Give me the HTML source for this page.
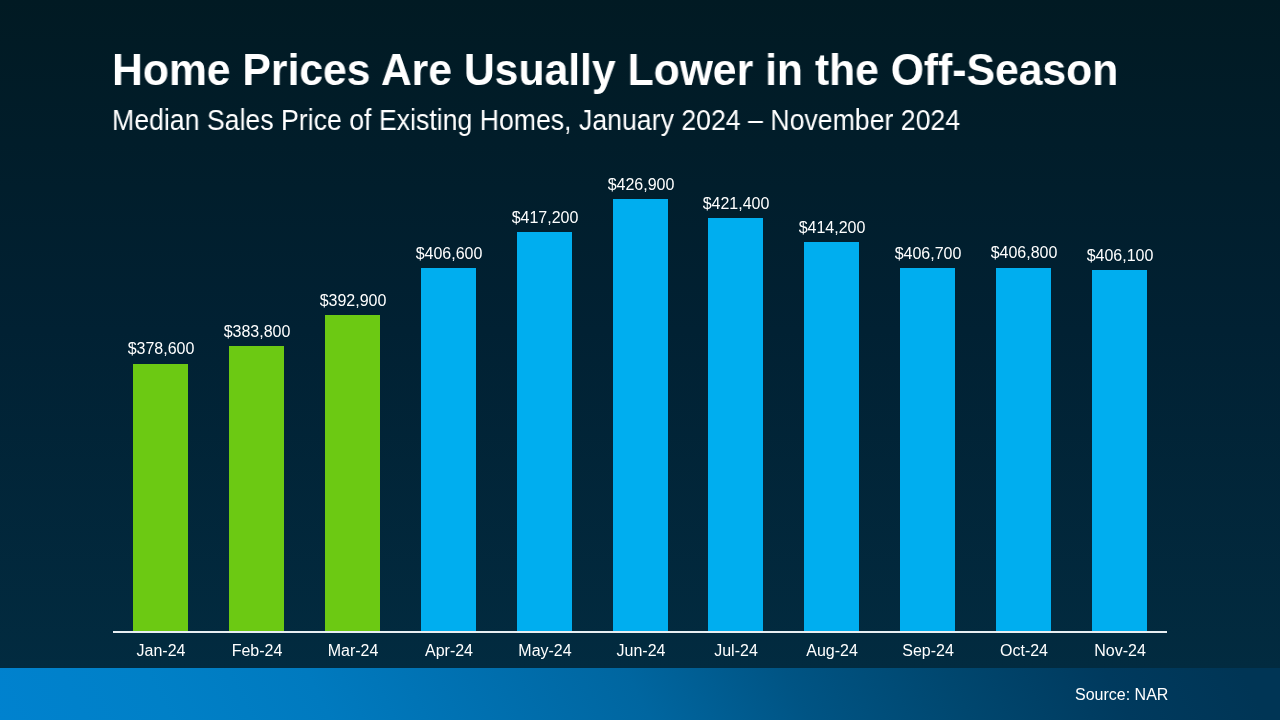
<!DOCTYPE html>
<html><head><meta charset="utf-8"><style>
html,body{margin:0;padding:0;}
.title,.sub,.lbl,.src{will-change:transform;}
body{width:1280px;height:720px;position:relative;overflow:hidden;font-family:"Liberation Sans",sans-serif;color:#fff;
background:linear-gradient(to bottom,#011a23 0px,#012133 330px,#022b40 668px);}
.title{position:absolute;left:112.1px;top:48px;font-weight:bold;font-size:44.6px;line-height:44.6px;white-space:nowrap;transform:scaleX(0.957);transform-origin:0 0;}
.sub{position:absolute;left:112px;top:106px;font-size:29px;line-height:29px;white-space:nowrap;transform:scaleX(0.9198);transform-origin:0 0;}
.bar{position:absolute;}
.lbl{position:absolute;width:100px;text-align:center;font-size:16px;line-height:16px;white-space:nowrap;}
.axis{position:absolute;left:113px;width:1054px;top:631px;height:1.6px;background:#e8eef2;}
.foot{position:absolute;left:0;top:668px;width:1280px;height:52px;background:linear-gradient(63deg,#0082cf 0%,#0080c7 13%,#007abf 25.3%,#0070b0 37.5%,#0066a0 49.8%,#005484 62%,#00476f 74.3%,#003a5e 86.5%,#003555 97%);}
.src{position:absolute;right:112px;top:687.2px;font-size:16px;line-height:16px;white-space:nowrap;}
</style></head><body>
<div class="title" id="t">Home Prices Are Usually Lower in the Off-Season</div>
<div class="sub" id="s">Median Sales Price of Existing Homes, January 2024 &ndash; November 2024</div>
<div class="bar" style="left:133.00px;top:364.00px;width:55px;height:268.00px;background:#6cc913"></div>
<div class="lbl" style="left:110.50px;top:340.51px">$378,600</div>
<div class="lbl" style="left:110.50px;top:643.45px">Jan-24</div>
<div class="bar" style="left:229.00px;top:346.00px;width:55px;height:286.00px;background:#6cc913"></div>
<div class="lbl" style="left:206.50px;top:323.73px">$383,800</div>
<div class="lbl" style="left:206.50px;top:643.45px">Feb-24</div>
<div class="bar" style="left:325.00px;top:315.00px;width:55px;height:317.00px;background:#6cc913"></div>
<div class="lbl" style="left:302.50px;top:292.99px">$392,900</div>
<div class="lbl" style="left:302.50px;top:643.45px">Mar-24</div>
<div class="bar" style="left:421.00px;top:268.00px;width:55px;height:364.00px;background:#00aeef"></div>
<div class="lbl" style="left:398.50px;top:246.11px">$406,600</div>
<div class="lbl" style="left:398.50px;top:643.45px">Apr-24</div>
<div class="bar" style="left:517.00px;top:232.00px;width:55px;height:400.00px;background:#00aeef"></div>
<div class="lbl" style="left:494.50px;top:210.28px">$417,200</div>
<div class="lbl" style="left:494.50px;top:643.45px">May-24</div>
<div class="bar" style="left:613.00px;top:199.00px;width:55px;height:433.00px;background:#00aeef"></div>
<div class="lbl" style="left:590.50px;top:177.30px">$426,900</div>
<div class="lbl" style="left:590.50px;top:643.45px">Jun-24</div>
<div class="bar" style="left:708.00px;top:218.00px;width:55px;height:414.00px;background:#00aeef"></div>
<div class="lbl" style="left:685.50px;top:195.65px">$421,400</div>
<div class="lbl" style="left:685.50px;top:643.45px">Jul-24</div>
<div class="bar" style="left:804.00px;top:242.00px;width:55px;height:390.00px;background:#00aeef"></div>
<div class="lbl" style="left:781.50px;top:220.18px">$414,200</div>
<div class="lbl" style="left:781.50px;top:643.45px">Aug-24</div>
<div class="bar" style="left:900.00px;top:268.00px;width:55px;height:364.00px;background:#00aeef"></div>
<div class="lbl" style="left:877.50px;top:245.62px">$406,700</div>
<div class="lbl" style="left:877.50px;top:643.45px">Sep-24</div>
<div class="bar" style="left:996.00px;top:268.00px;width:55px;height:364.00px;background:#00aeef"></div>
<div class="lbl" style="left:973.50px;top:244.63px">$406,800</div>
<div class="lbl" style="left:973.50px;top:643.45px">Oct-24</div>
<div class="bar" style="left:1092.00px;top:270.00px;width:55px;height:362.00px;background:#00aeef"></div>
<div class="lbl" style="left:1069.50px;top:247.51px">$406,100</div>
<div class="lbl" style="left:1069.50px;top:643.45px">Nov-24</div>
<div class="axis"></div>
<div class="foot"></div>
<div class="src" id="src">Source: NAR</div>
</body></html>
